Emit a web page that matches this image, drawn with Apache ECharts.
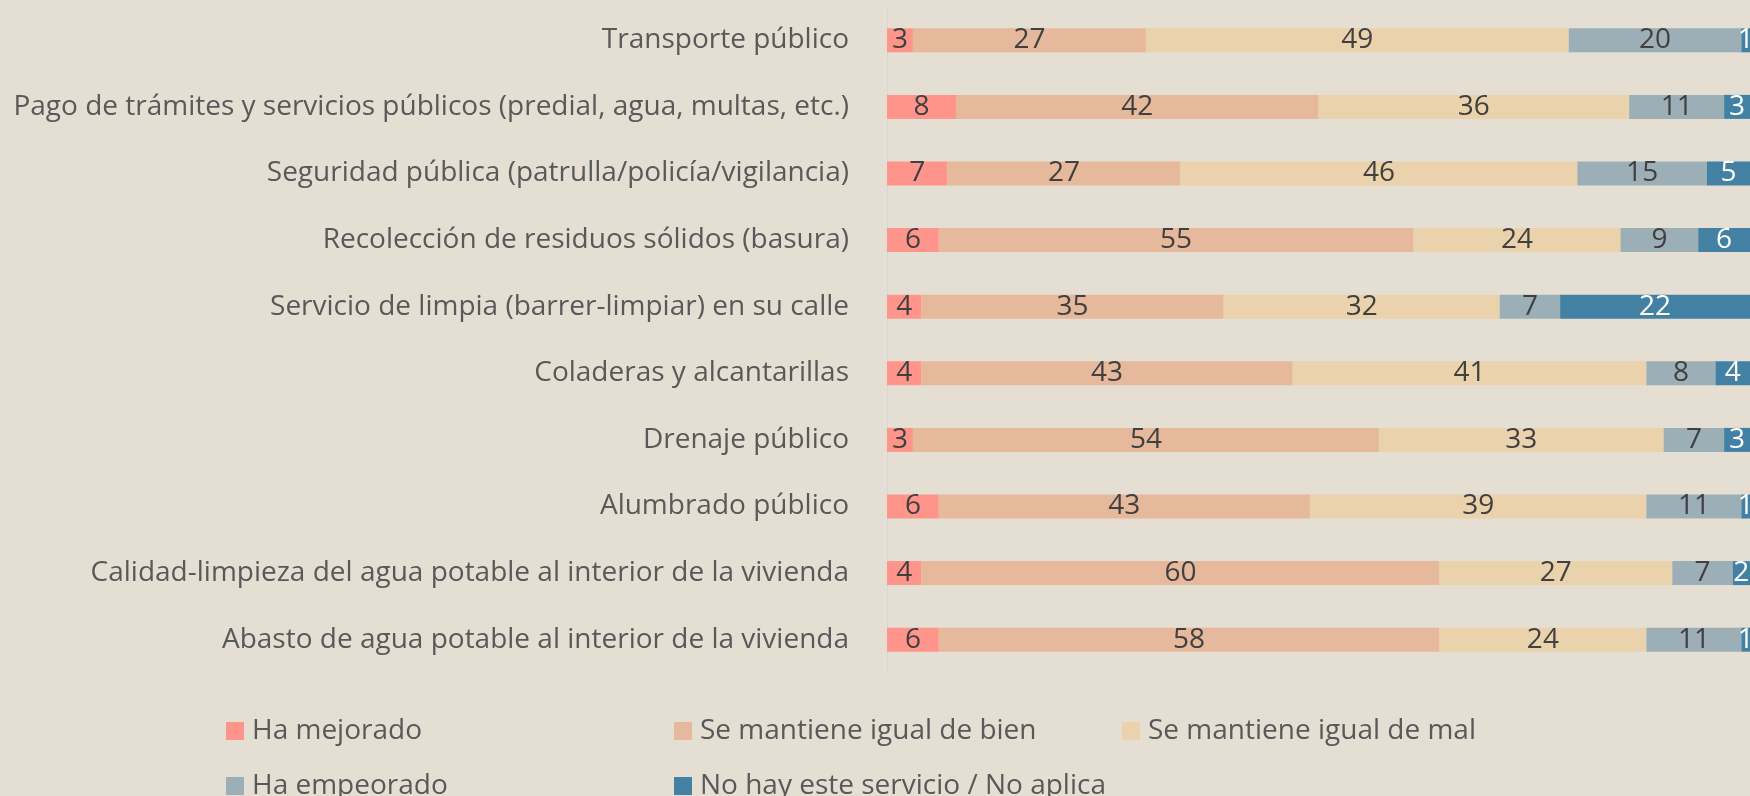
<!DOCTYPE html>
<html>
<head>
<meta charset="utf-8">
<script src="https://cdn.jsdelivr.net/npm/echarts@6/dist/echarts.min.js"></script>
<style>
html,body{margin:0;padding:0;background:#E4DED3;}
#chart{width:1750px;height:796px;}
</style>
</head>
<body>
<div id="chart"></div>
<script>
const categories = [
  "Transporte público",
  "Pago de trámites y servicios públicos (predial, agua, multas, etc.)",
  "Seguridad pública (patrulla/policía/vigilancia)",
  "Recolección de residuos sólidos (basura)",
  "Servicio de limpia (barrer-limpiar) en su calle",
  "Coladeras y alcantarillas",
  "Drenaje público",
  "Alumbrado público",
  "Calidad-limpieza del agua potable al interior de la vivienda",
  "Abasto de agua potable al interior de la vivienda"
];
const seriesNames = ["Ha mejorado", "Se mantiene igual de bien", "Se mantiene igual de mal", "Ha empeorado", "No hay este servicio / No aplica"];
const haMejorado   = [3, 8, 7, 6, 4, 4, 3, 6, 4, 6];
const igualBien    = [27, 42, 27, 55, 35, 43, 54, 43, 60, 58];
const igualMal     = [49, 36, 46, 24, 32, 41, 33, 39, 27, 24];
const haEmpeorado  = [20, 11, 15, 9, 7, 8, 7, 11, 7, 11];
const noAplica     = [1, 3, 5, 6, 22, 4, 3, 1, 2, 1];

const values = [haMejorado, igualBien, igualMal, haEmpeorado, noAplica];
const colors = ["#FF958A", "#E6B89C", "#EAD2AC", "#9CAFB7", "#4281A4"];
const labelColors = ["#404040", "#404040", "#404040", "#404040", "#FFFFFF"];
const FONT = "'Open Sans', sans-serif";

const chart = echarts.init(document.getElementById('chart'), null, {renderer: 'canvas'});

const legendPos = [
  {left: 226, top: 717},
  {left: 674, top: 717},
  {left: 1122, top: 717},
  {left: 226, top: 772},
  {left: 674, top: 772}
];

const option = {
  backgroundColor: '#E4DED3',
  animation: false,
  grid: {left: 887, right: 0, top: 7, height: 666, containLabel: false},
  xAxis: {
    type: 'value', min: 0, max: 100,
    show: false
  },
  yAxis: {
    type: 'category',
    data: categories,
    inverse: true,
    axisLine: {show: true, lineStyle: {color: '#D6D6DC', width: 1}},
    axisTick: {show: false},
    axisLabel: {
      margin: 38,
      fontFamily: FONT,
      fontSize: 28,
      color: '#595959'
    }
  },
  legend: seriesNames.map((n, i) => ({
    data: [n],
    left: legendPos[i].left,
    top: legendPos[i].top,
    padding: 0,
    icon: 'rect',
    itemWidth: 18,
    itemHeight: 18,
    selectedMode: false,
    textStyle: {fontFamily: FONT, fontSize: 28, color: '#595959', padding: [0, 0, 0, 3], lineHeight: 18}
  })),
  series: seriesNames.map((n, i) => ({
    name: n,
    type: 'bar',
    stack: 'total',
    barWidth: 24,
    data: values[i],
    itemStyle: {color: colors[i]},
    label: {
      show: true,
      position: 'inside',
      fontFamily: FONT,
      fontSize: 28,
      color: labelColors[i]
    }
  }))
};
chart.setOption(option);
</script>
</body>
</html>
